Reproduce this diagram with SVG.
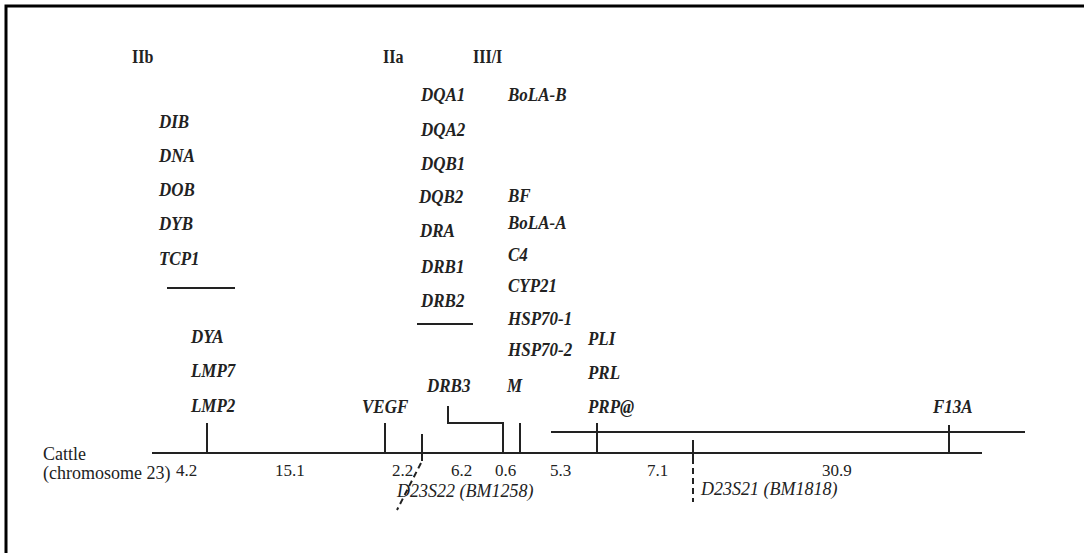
<svg xmlns="http://www.w3.org/2000/svg" width="1084" height="553" viewBox="0 0 1084 553">
<style>
.g{font-family:"Liberation Serif","Times New Roman",serif;font-style:italic;font-weight:bold;font-size:17px;fill:#222}
.h{font-family:"Liberation Serif","Times New Roman",serif;font-weight:bold;font-size:16px;fill:#222}
.n{font-family:"Liberation Serif","Times New Roman",serif;font-size:17px;fill:#222}
.c{font-family:"Liberation Serif","Times New Roman",serif;font-size:18px;fill:#222}
.m{font-family:"Liberation Serif","Times New Roman",serif;font-style:italic;font-size:18px;fill:#222}
.l{stroke:#222;stroke-width:2;fill:none}
.d{stroke:#222;stroke-width:2;fill:none;stroke-dasharray:6,4}
</style>
<rect width="1084" height="553" fill="#fff"/>
<g id="frame"><path d="M6,553 V6 H1084" stroke="#000" stroke-width="3" fill="none"/></g>

<g id="headers">
<text class="h" transform="translate(132,63) scale(1,1.15)">IIb</text>
<text class="h" transform="translate(383,63) scale(1,1.15)">IIa</text>
<text class="h" transform="translate(473,63) scale(1,1.15)">III/I</text>
</g>

<g id="class-IIb">
<text class="g" transform="translate(159,128) scale(1,1.15)">DIB</text>
<text class="g" transform="translate(159,162) scale(1,1.15)">DNA</text>
<text class="g" transform="translate(159,196) scale(1,1.15)">DOB</text>
<text class="g" transform="translate(159,230) scale(1,1.15)">DYB</text>
<text class="g" transform="translate(159,265) scale(1,1.15)">TCP1</text>
</g>

<g id="class-IIa">
<text class="g" transform="translate(421,101) scale(1,1.15)">DQA1</text>
<text class="g" transform="translate(421,136) scale(1,1.15)">DQA2</text>
<text class="g" transform="translate(421,170) scale(1,1.15)">DQB1</text>
<text class="g" transform="translate(419,203) scale(1,1.15)">DQB2</text>
<text class="g" transform="translate(420,237) scale(1,1.15)">DRA</text>
<text class="g" transform="translate(421,273) scale(1,1.15)">DRB1</text>
<text class="g" transform="translate(421,307) scale(1,1.15)">DRB2</text>
</g>

<g id="class-III-I">
<text class="g" transform="translate(508,101) scale(1,1.15)">BoLA-B</text>
<text class="g" transform="translate(508,202) scale(1,1.15)">BF</text>
<text class="g" transform="translate(508,229) scale(1,1.15)">BoLA-A</text>
<text class="g" transform="translate(508,261) scale(1,1.15)">C4</text>
<text class="g" transform="translate(508,292) scale(1,1.15)">CYP21</text>
<text class="g" transform="translate(508,325) scale(1,1.15)">HSP70-1</text>
<text class="g" transform="translate(508,356) scale(1,1.15)">HSP70-2</text>
<text class="g" transform="translate(507,392) scale(1,1.15)">M</text>
</g>

<g id="dya-group">
<text class="g" transform="translate(191,343) scale(1,1.15)">DYA</text>
<text class="g" transform="translate(191,377) scale(1,1.15)">LMP7</text>
<text class="g" transform="translate(191,412) scale(1,1.15)">LMP2</text>
</g>

<g id="vegf"><text class="g" transform="translate(362,413) scale(1,1.15)">VEGF</text></g>
<g id="drb3"><text class="g" transform="translate(427,392) scale(1,1.15)">DRB3</text></g>

<g id="prl-group">
<text class="g" transform="translate(588,345) scale(1,1.15)">PLI</text>
<text class="g" transform="translate(588,379) scale(1,1.15)">PRL</text>
<text class="g" transform="translate(588,413) scale(1,1.15)">PRP@</text>
</g>

<g id="f13a"><text class="g" transform="translate(933,413) scale(1,1.15)">F13A</text></g>

<g id="chromosome-label">
<text class="c" x="43" y="460">Cattle</text>
<text class="c" x="43" y="479">(chromosome 23)</text>
</g>

<g id="distances">
<text class="n" x="176" y="476">4.2</text>
<text class="n" x="275" y="476">15.1</text>
<text class="n" x="392" y="476">2.2</text>
<text class="n" x="451" y="476">6.2</text>
<text class="n" x="495" y="476">0.6</text>
<text class="n" x="550" y="476">5.3</text>
<text class="n" x="647" y="476">7.1</text>
<text class="n" x="822" y="476">30.9</text>
</g>

<g id="markers">
<text class="m" transform="translate(397,497) scale(1,1.1)">D23S22 (BM1258)</text>
<text class="m" transform="translate(701,495) scale(1,1.1)">D23S21 (BM1818)</text>
</g>

<g id="connectors">
<line class="l" x1="152" y1="453" x2="982" y2="453"/>
<line class="l" x1="551" y1="432" x2="1025" y2="432"/>
<line class="l" x1="167" y1="288" x2="235" y2="288"/>
<line class="l" x1="417" y1="324" x2="473" y2="324"/>
<line class="l" x1="207" y1="423" x2="207" y2="453"/>
<line class="l" x1="385" y1="423" x2="385" y2="453"/>
<line class="l" x1="422" y1="434" x2="422" y2="461"/>
<line class="d" x1="421" y1="463" x2="397" y2="510"/>
<path class="l" d="M448,406 V423 H503 V453"/>
<line class="l" x1="520" y1="423" x2="520" y2="453"/>
<line class="l" x1="597" y1="423" x2="597" y2="453"/>
<line class="l" x1="949" y1="425" x2="949" y2="453"/>
<line class="l" x1="693" y1="440" x2="693" y2="464"/>
<line class="d" x1="693" y1="468" x2="693" y2="502"/>
</g>
</svg>
